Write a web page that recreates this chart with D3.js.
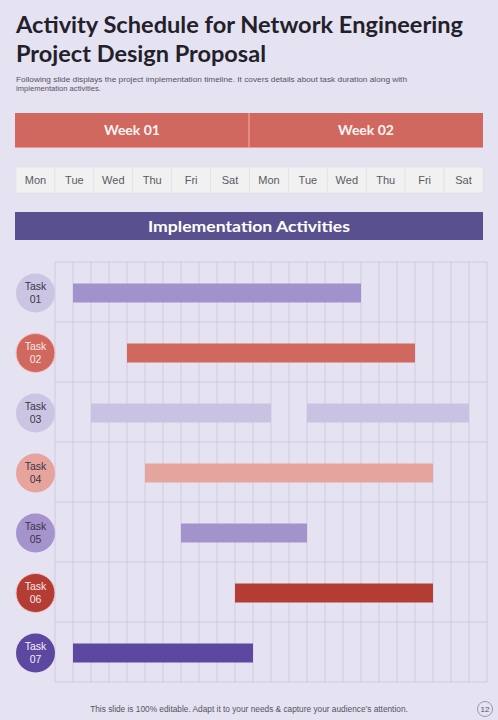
<!DOCTYPE html>
<html>
<head>
<meta charset="utf-8">
<script src="https://cdn.jsdelivr.net/npm/d3@7"></script>
<style>
  html, body { margin: 0; padding: 0; background: #e5e2f1; }
  svg { display: block; }
</style>
</head>
<body>
<script>
const width = 498;
const height = 720;

// data
const weeks = ["Week 01", "Week 02"];
const days = ["Mon", "Tue", "Wed", "Thu", "Fri", "Sat", "Mon", "Tue", "Wed", "Thu", "Fri", "Sat"];
const tasks = ["Task 01", "Task 02", "Task 03", "Task 04", "Task 05", "Task 06", "Task 07"];
// bars in half-day slots (0..24), task 03 has two bars
const barTask = ["Task 01", "Task 02", "Task 03", "Task 03", "Task 04", "Task 05", "Task 06", "Task 07"];
const barStart = [1, 4, 2, 14, 5, 7, 10, 1];
const barEnd = [17, 20, 12, 23, 21, 14, 21, 11];
const taskFill = ["#cbc5e3", "#d0685f", "#cbc5e3", "#e6a49d", "#a493cc", "#b33c35", "#5c48a0"];
const barFill = ["#a191cc", "#d0685f", "#c9c2e2", "#e6a49e", "#a393cc", "#b33c35", "#5c48a0"];
const taskText = ["#3a3548", "#fbe9e6", "#3a3548", "#3a3548", "#3a3548", "#fbe9e6", "#f3f0fb"];

const margin = { left: 55, right: 11, top: 262, bottom: 38 };

let svg = d3.select("body").append("svg")
    .attr("width", width)
    .attr("height", height);

svg.append("rect")
    .attr("width", width)
    .attr("height", height)
    .attr("fill", "#e5e2f1");

// title
const title = svg.append("g").attr("font-family", "'Lato', 'DejaVu Sans', sans-serif")
    .attr("font-weight", "bold")
    .attr("font-size", 22)
    .attr("fill", "#231f2b");
title.append("text").attr("x", 16).attr("y", 33)
    .attr("textLength", 447).attr("lengthAdjust", "spacingAndGlyphs")
    .text("Activity Schedule for Network Engineering");
title.append("text").attr("x", 16).attr("y", 62)
    .attr("textLength", 250).attr("lengthAdjust", "spacingAndGlyphs")
    .text("Project Design Proposal");

const sub = svg.append("g").attr("font-family", "'Liberation Sans', Arial, sans-serif")
    .attr("font-size", 7.6)
    .attr("fill", "#57525f");
sub.append("text").attr("x", 16).attr("y", 82)
    .attr("textLength", 391).attr("lengthAdjust", "spacingAndGlyphs")
    .text("Following slide displays the project implementation timeline. It covers details about task duration along with");
sub.append("text").attr("x", 16).attr("y", 91)
    .text("implementation activities.");

// week header
let weekScale = d3.scaleBand().domain(weeks).range([15, 483]);

svg.selectAll(".week")
    .data(weeks)
    .enter()
    .append("rect")
    .attr("class", "week")
    .attr("x", d => weekScale(d))
    .attr("y", 113)
    .attr("width", weekScale.bandwidth())
    .attr("height", 35)
    .attr("fill", "#d0685f");

svg.append("line")
    .attr("x1", weekScale(weeks[1])).attr("x2", weekScale(weeks[1]))
    .attr("y1", 113).attr("y2", 148)
    .attr("stroke", "#f1a69f").attr("stroke-width", 1.2);

svg.append("line")
    .attr("x1", 15).attr("x2", 483)
    .attr("y1", 147.5).attr("y2", 147.5)
    .attr("stroke", "#ec9a92").attr("stroke-width", 1);

svg.selectAll(".weekLabel")
    .data(weeks)
    .enter()
    .append("text")
    .attr("class", "weekLabel")
    .attr("x", d => weekScale(d) + weekScale.bandwidth() / 2)
    .attr("y", 135)
    .attr("text-anchor", "middle")
    .attr("font-family", "'Lato', 'DejaVu Sans', sans-serif")
    .attr("font-weight", "bold")
    .attr("font-size", 14)
    .attr("fill", "#fff5f3")
    .text(d => d);

// days row
let dayScale = d3.scaleBand().domain(d3.range(days.length)).range([16, 483]);

svg.selectAll(".day")
    .data(days)
    .enter()
    .append("rect")
    .attr("class", "day")
    .attr("x", (d, i) => dayScale(i))
    .attr("y", 167)
    .attr("width", dayScale.bandwidth())
    .attr("height", 26)
    .attr("fill", "#f1f1f2")
    .attr("stroke", "#e3e2e6")
    .attr("stroke-width", 0.8);

svg.selectAll(".dayLabel")
    .data(days)
    .enter()
    .append("text")
    .attr("class", "dayLabel")
    .attr("x", (d, i) => dayScale(i) + dayScale.bandwidth() / 2)
    .attr("y", 184)
    .attr("text-anchor", "middle")
    .attr("font-family", "'Liberation Sans', Arial, sans-serif")
    .attr("font-size", 11)
    .attr("fill", "#5a5a5e")
    .text(d => d);

// activities header
svg.append("rect")
    .attr("x", 15).attr("y", 212)
    .attr("width", 468).attr("height", 28)
    .attr("fill", "#58508f");
svg.append("text")
    .attr("x", 148).attr("y", 232)
    .attr("font-family", "'Lato', 'DejaVu Sans', sans-serif")
    .attr("font-weight", "bold")
    .attr("font-size", 16)
    .attr("fill", "#ffffff")
    .attr("textLength", 202).attr("lengthAdjust", "spacingAndGlyphs")
    .text("Implementation Activities");

// gantt grid
let xScale = d3.scaleLinear()
    .domain([0, 24])
    .range([margin.left, width - margin.right]);

let yScale = d3.scaleBand()
    .domain(tasks)
    .range([margin.top, height - margin.bottom]);

let grid = svg.append("g").attr("stroke", "#d0cbe0").attr("stroke-width", 1);

grid.selectAll(".vline")
    .data(d3.range(0, 25))
    .enter()
    .append("line")
    .attr("x1", d => xScale(d)).attr("x2", d => xScale(d))
    .attr("y1", margin.top).attr("y2", height - margin.bottom);

grid.selectAll(".hline")
    .data(tasks.concat(["end"]))
    .enter()
    .append("line")
    .attr("x1", xScale(0)).attr("x2", xScale(24))
    .attr("y1", d => d === "end" ? yScale.range()[1] : yScale(d))
    .attr("y2", d => d === "end" ? yScale.range()[1] : yScale(d));

// bars
const barH = 19;
svg.selectAll(".bar")
    .data(barTask)
    .enter()
    .append("rect")
    .attr("class", "bar")
    .attr("x", (d, i) => xScale(barStart[i]))
    .attr("y", d => yScale(d) + yScale.bandwidth() / 2 - barH / 2 + 1)
    .attr("width", (d, i) => xScale(barEnd[i]) - xScale(barStart[i]))
    .attr("height", barH)
    .attr("fill", d => barFill[tasks.indexOf(d)]);

// task circles
let circles = svg.selectAll(".task")
    .data(tasks)
    .enter()
    .append("g")
    .attr("class", "task")
    .attr("transform", d => `translate(35.5, ${yScale(d) + yScale.bandwidth() / 2 + 1})`);

circles.append("circle")
    .attr("r", 19.5)
    .attr("fill", (d, i) => taskFill[i])
    .attr("stroke", (d, i) => i === 1 || i === 5 ? "#f4c4bd" : "none")
    .attr("stroke-width", 1);

circles.append("text")
    .attr("text-anchor", "middle")
    .attr("font-family", "'Liberation Sans', Arial, sans-serif")
    .attr("font-size", 10.5)
    .attr("fill", (d, i) => taskText[i])
    .each(function(d) {
        const parts = d.split(" ");
        d3.select(this).append("tspan").attr("x", 0).attr("y", -3).text(parts[0]);
        d3.select(this).append("tspan").attr("x", 0).attr("y", 9.5).text(parts[1]);
    });

// footer
svg.append("text")
    .attr("x", 249).attr("y", 712)
    .attr("text-anchor", "middle")
    .attr("font-family", "'Liberation Sans', Arial, sans-serif")
    .attr("font-size", 8.3)
    .attr("fill", "#57525f")
    .text("This slide is 100% editable. Adapt it to your needs & capture your audience\u2019s attention.");

svg.append("circle")
    .attr("cx", 485).attr("cy", 709)
    .attr("r", 7.5)
    .attr("fill", "none")
    .attr("stroke", "#8a8595")
    .attr("stroke-width", 0.8);
svg.append("text")
    .attr("x", 485).attr("y", 712)
    .attr("text-anchor", "middle")
    .attr("font-family", "'Liberation Sans', Arial, sans-serif")
    .attr("font-size", 8)
    .attr("fill", "#57525f")
    .text("12");
</script>
</body>
</html>
